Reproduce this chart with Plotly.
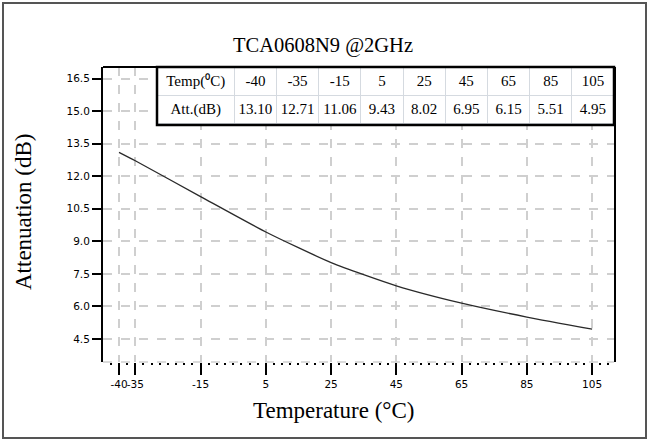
import plotly.graph_objects as go

temps = [-40, -35, -15, 5, 25, 45, 65, 85, 105]
att = [13.10, 12.71, 11.06, 9.43, 8.02, 6.95, 6.15, 5.51, 4.95]
y_ticks = [4.5, 6.0, 7.5, 9.0, 10.5, 12.0, 13.5, 15.0, 16.5]
x_tick_labels = ["-40", "-35", "-15", "5", "25", "45", "65", "85", "105"]
title_text = "TCA0608N9 @2GHz"
row_labels = ["Temp(\u2070C)", "Att.(dB)"]

W, H = 649, 441
L, R, T, B = 103, 35, 67, 79
pw, ph = W - L - R, H - T - B

def px(x):
    return (x - L) / pw

def py(y):
    return (H - B - y) / ph

fig = go.Figure()
fig.add_trace(go.Scatter(x=temps, y=att, mode="lines",
                         line=dict(color="#2a2a2a", width=1.3, shape="spline", smoothing=0.6),
                         hoverinfo="skip", showlegend=False))

fig.add_trace(go.Table(
    domain=dict(x=[px(157), 1.0], y=[py(125), py(67)]),
    columnwidth=[77] + [42] * len(temps),
    header=dict(values=[row_labels[0]] + [str(t) for t in temps],
                fill_color="white", line=dict(color="#d5dae0", width=1),
                font=dict(family="Liberation Serif", size=15, color="black"),
                align="center", height=28),
    cells=dict(values=[[row_labels[1]]] + [["%.2f" % a] for a in att],
               fill_color="white", line=dict(color="#d5dae0", width=1),
               font=dict(family="Liberation Serif", size=15, color="black"),
               align="center", height=28),
))

tick_font = dict(family="DejaVu Sans", size=10.5, color="black")
fig.update_layout(
    width=W, height=H,
    margin=dict(l=L, r=R, t=T, b=B),
    paper_bgcolor="white", plot_bgcolor="white",
    showlegend=False,
    title=dict(text=title_text, x=323 / W, xref="container", xanchor="center",
               y=1 - 45 / H, yref="container", yanchor="middle",
               font=dict(family="Liberation Serif", size=20.5, color="black")),
    xaxis=dict(range=[-44.9, 111.7], tickmode="array", tickvals=temps,
               ticktext=x_tick_labels, tickangle=0,
               ticks="outside", ticklen=12, tickwidth=2, tickcolor="black",
               showline=False, zeroline=False,
               showgrid=True, gridcolor="#cfcfcf", griddash="dash", gridwidth=1.5,
               tickfont=tick_font,
               minor=dict(dtick=2.5, tick0=-40, ticks="outside", ticklen=2, tickwidth=2,
                          tickcolor="black", showgrid=False)),
    yaxis=dict(range=[3.44, 17.03], tickmode="array", tickvals=y_ticks,
               ticktext=["%.1f" % v for v in y_ticks],
               ticks="outside", ticklen=9, tickwidth=2, tickcolor="black",
               showline=True, linecolor="black", linewidth=2, mirror=True,
               zeroline=False,
               showgrid=True, gridcolor="#cfcfcf", griddash="dash", gridwidth=1.5,
               tickfont=tick_font),
    annotations=[
        dict(text="Attenuation (dB)", xref="paper", yref="paper", x=px(23), y=py(212),
             textangle=-90, showarrow=False, xanchor="center", yanchor="middle",
             font=dict(family="Liberation Serif", size=23, color="black")),
        dict(text="Temperature (°C)", xref="paper", yref="paper", x=px(333), y=py(410),
             showarrow=False, xanchor="center", yanchor="middle",
             font=dict(family="Liberation Serif", size=23, color="black")),
    ],
    shapes=[
        dict(type="rect", xref="paper", yref="paper", x0=px(3), x1=px(646), y0=py(438), y1=py(3),
             line=dict(color="#555555", width=2), layer="above"),
        dict(type="line", xref="paper", yref="paper", x0=0, x1=px(157), y0=1, y1=1,
             line=dict(color="black", width=2), layer="above"),
        dict(type="line", xref="paper", yref="paper", x0=0, x1=1, y0=0, y1=0,
             line=dict(color="#cfcfcf", width=1.5, dash="dash"), layer="below"),
        dict(type="rect", xref="paper", yref="paper", x0=px(157), x1=px(614), y0=py(125), y1=py(67),
             line=dict(color="black", width=2.5), layer="above"),
    ],
)

fig.write_html("out.html", config={"displayModeBar": False},
               post_script="document.body.style.margin='0';document.body.style.overflow='hidden';")
